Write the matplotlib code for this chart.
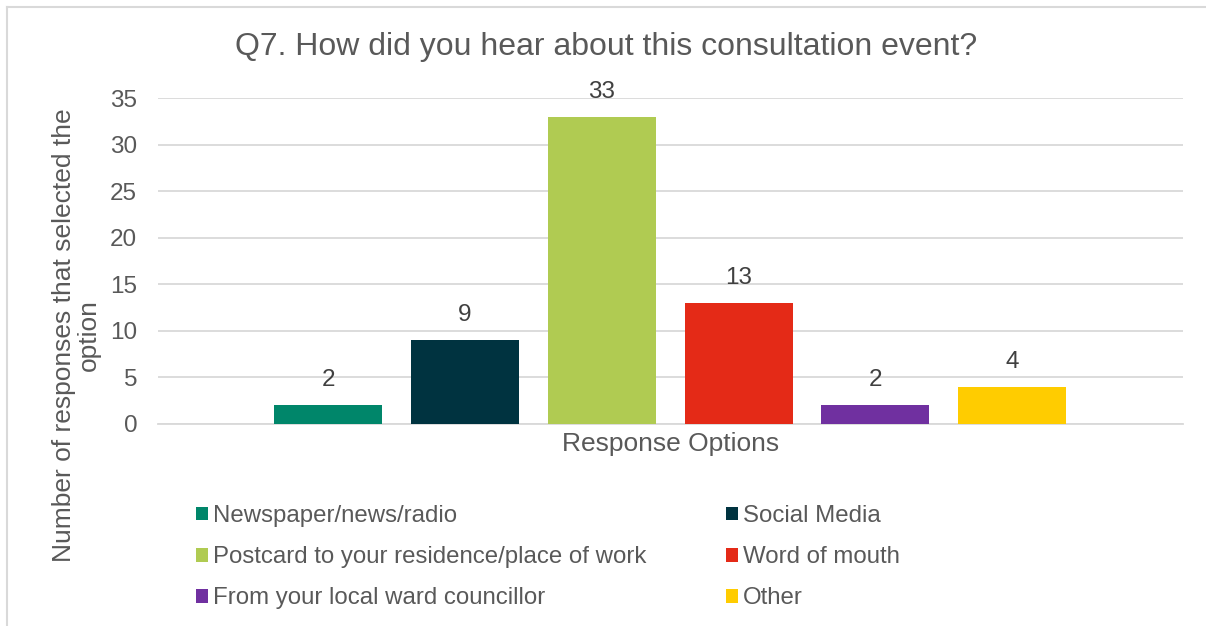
import numpy as np
import matplotlib
matplotlib.use("Agg")
import matplotlib.pyplot as plt
from matplotlib.patches import Patch
from matplotlib.lines import Line2D

plt.rcParams['font.family'] = ['Liberation Sans', 'DejaVu Sans']

# data
options = ['Newspaper/news/radio', 'Social Media',
           'Postcard to your residence/place of work', 'Word of mouth',
           'From your local ward councillor', 'Other']
counts = [2, 9, 33, 13, 2, 4]
colors = ['#00866A', '#003340', '#B0CB52', '#E42A17', '#7030A0', '#FFCC00']
yticks = [0, 5, 10, 15, 20, 25, 30, 35]

TXT = '#595959'
GRID = '#D9D9D9'

fig = plt.figure(figsize=(12.06, 6.26), dpi=100)
W, H = 1206, 626
ax = fig.add_axes([158 / W, (H - 424) / H, (1183 - 158) / W, (424 - 98) / H])

# clustered bars, one category
x = np.arange(len(counts)) - (len(counts) - 1) / 2
bars = ax.bar(x, counts, width=0.79, color=colors, zorder=3)
ax.bar_label(bars, padding=10, fontsize=17.5, color='#404040')

ax.set_xlim(-3.745, 3.75)
ax.set_ylim(0, 35)
ax.set_yticks(yticks)
ax.set_xticks([])
ax.tick_params(axis='y', length=0, labelsize=17.5, labelcolor=TXT, pad=15)
ax.grid(axis='y', color=GRID, lw=1.3, zorder=0)
for s in ['top', 'right', 'left']:
    ax.spines[s].set_visible(False)
ax.spines['bottom'].set_color(GRID)
ax.spines['bottom'].set_linewidth(1.3)
ax.set_xlabel('Response Options', fontsize=19, color=TXT, labelpad=6)

fig.text(0.503, 1 - 47 / H, 'Q7. How did you hear about this consultation event?',
         ha='center', va='center', fontsize=23, color=TXT)
fig.text(76 / W, 1 - 335 / H, 'Number of responses that selected the\noption',
         rotation=90, ha='center', va='center', multialignment='center',
         fontsize=19, color=TXT, linespacing=1.05)

# legend, row-major order like the original
handles = [Patch(facecolor=c, label=l) for c, l in zip(colors, options)]
order = [0, 2, 4, 1, 3, 5]
leg = fig.legend([handles[i] for i in order], [options[i] for i in order],
                 ncol=2, loc='upper left', bbox_to_anchor=(196 / W, 1 - 505 / H),
                 frameon=False, fontsize=17.3, handlelength=0.5, handleheight=0.5,
                 handletextpad=0.22, labelspacing=0.8, columnspacing=3.3,
                 borderpad=0, borderaxespad=0)
for t in leg.get_texts():
    t.set_color(TXT)

# outer chart border (top and left visible)
fig.add_artist(Line2D([7 / W, 7 / W], [0, 1 - 7 / H], color=GRID, lw=1.5))
fig.add_artist(Line2D([7 / W, 1], [1 - 7 / H, 1 - 7 / H], color=GRID, lw=1.5))

fig.savefig('out.png', dpi=100)
